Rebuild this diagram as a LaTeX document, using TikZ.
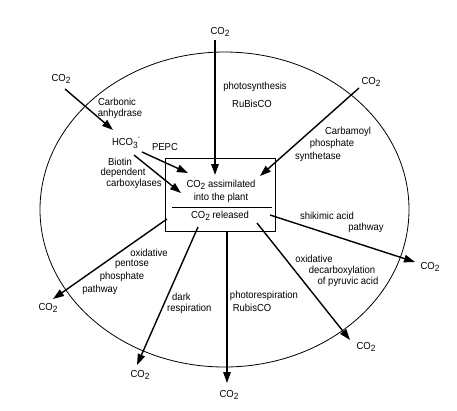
\documentclass[tikz,border=0pt]{standalone}
\usepackage{fontspec}
\setmainfont[FakeStretch=0.93]{Liberation Sans}
\usetikzlibrary{arrows.meta}
\newcommand{\cotwo}{CO\raisebox{-0.45ex}{\small 2}}
\begin{document}
\begin{tikzpicture}[x=1pt,y=-1pt,
  lbl/.style={font=\fontsize{10.2}{12}\selectfont, inner sep=0pt, align=center},
  arr/.style={line width=1.4pt, -{Triangle[length=11pt,width=7.5pt]}}]
\useasboundingbox (0,0) rectangle (457,410);
% cell
\draw[line width=0.8pt] (224.5,209.5) ellipse [x radius=184.5pt, y radius=157.5pt];
% central box
\node[draw, line width=0.9pt, minimum width=110pt, minimum height=73pt, inner sep=0pt] (box) at (220,194.5) {};
\node[lbl, font=\fontsize{10.2}{13}\selectfont] (assim) at (221,191) {\cotwo{} assimilated\\into the plant};
\node[lbl] (rel) at (220,216) {\cotwo{} released};
\coordinate (dl) at (172,207);
\coordinate (dr) at (272,207);
\draw[line width=0.8pt] (dl) -- (dr);

% top: photosynthesis
\node[lbl] (co2top) at (220,32) {\cotwo};
\coordinate (topS) at (215,40);
\coordinate (topT) at (215,175);
\draw[arr] (topS) -- (topT);
\node[lbl] (photo) at (255,87) {photosynthesis};
\node[lbl] (rub1) at (252,104) {RuBisCO};

% upper left: carbonic anhydrase
\node[lbl] (co2ul) at (61,79) {\cotwo};
\coordinate (ulS) at (65,89);
\coordinate (ulT) at (113,130);
\draw[arr] (ulS) -- (ulT);
\node[lbl] (carb) at (117,102) {Carbonic};
\node[lbl] (anhy) at (120,114) {anhydrase};
\node[lbl] (hco) at (126,143) {HCO\raisebox{-0.45ex}{\small 3}\raisebox{1.1ex}{\scriptsize -}};
\node[lbl] (pepc) at (165,147) {PEPC};
\coordinate (haS) at (142,152);
\coordinate (haT) at (188,173);
\draw[arr] (haS) -- (haT);
\coordinate (hbS) at (134,155);
\coordinate (hbT) at (181,193);
\draw[arr] (hbS) -- (hbT);
\node[lbl] (biot) at (120,162) {Biotin};
\node[lbl] (depe) at (123,173) {dependent};
\node[lbl] (carx) at (134,184) {carboxylases};

% upper right: carbamoyl
\node[lbl] (co2ur) at (371,82) {\cotwo};
\coordinate (urS) at (359,88);
\coordinate (urT) at (260,176);
\draw[arr] (urS) -- (urT);
\node[lbl] (cbm) at (348,132) {Carbamoyl};
\node[lbl] (phos1) at (332,144) {phosphate};
\node[lbl] (synt) at (318,157) {synthetase};

% left: pentose phosphate
\node[lbl] (co2l) at (48,308) {\cotwo};
\coordinate (lS) at (167,219);
\coordinate (lT) at (53,299);
\draw[arr] (lS) -- (lT);
\node[lbl] (ox1) at (149,253) {oxidative};
\node[lbl] (pent) at (132,264) {pentose};
\node[lbl] (phos2) at (122,277) {phosphate};
\node[lbl] (path1) at (100,290) {pathway};

% dark respiration
\node[lbl] (co2dr) at (140,375) {\cotwo};
\coordinate (drS) at (198,227);
\coordinate (drT) at (137,365);
\draw[arr] (drS) -- (drT);
\node[lbl, align=left, anchor=west] (dark) at (172,297) {dark};
\node[lbl, align=left, anchor=west] (resp) at (167,309) {respiration};

% photorespiration
\node[lbl] (co2b) at (229,395) {\cotwo};
\coordinate (bS) at (227,231);
\coordinate (bT) at (227,383);
\draw[arr] (bS) -- (bT);
\node[lbl] (phres) at (264,296) {photorespiration};
\node[lbl] (rub2) at (252,308) {RubisCO};

% oxidative decarboxylation
\node[lbl] (co2od) at (366,347) {\cotwo};
\coordinate (odS) at (257,223);
\coordinate (odT) at (350,340);
\draw[arr] (odS) -- (odT);
\node[lbl] (ox2) at (314,259) {oxidative};
\node[lbl] (decb) at (342,271) {decarboxylation};
\node[lbl] (pyr) at (348,282) {of pyruvic acid};

% shikimic acid
\node[lbl] (co2sh) at (430,267) {\cotwo};
\coordinate (shS) at (270,215);
\coordinate (shT) at (415,262);
\draw[arr] (shS) -- (shT);
\node[lbl] (shik) at (327,216) {shikimic acid};
\node[lbl] (path2) at (366,228) {pathway};
\end{tikzpicture}
\end{document}
